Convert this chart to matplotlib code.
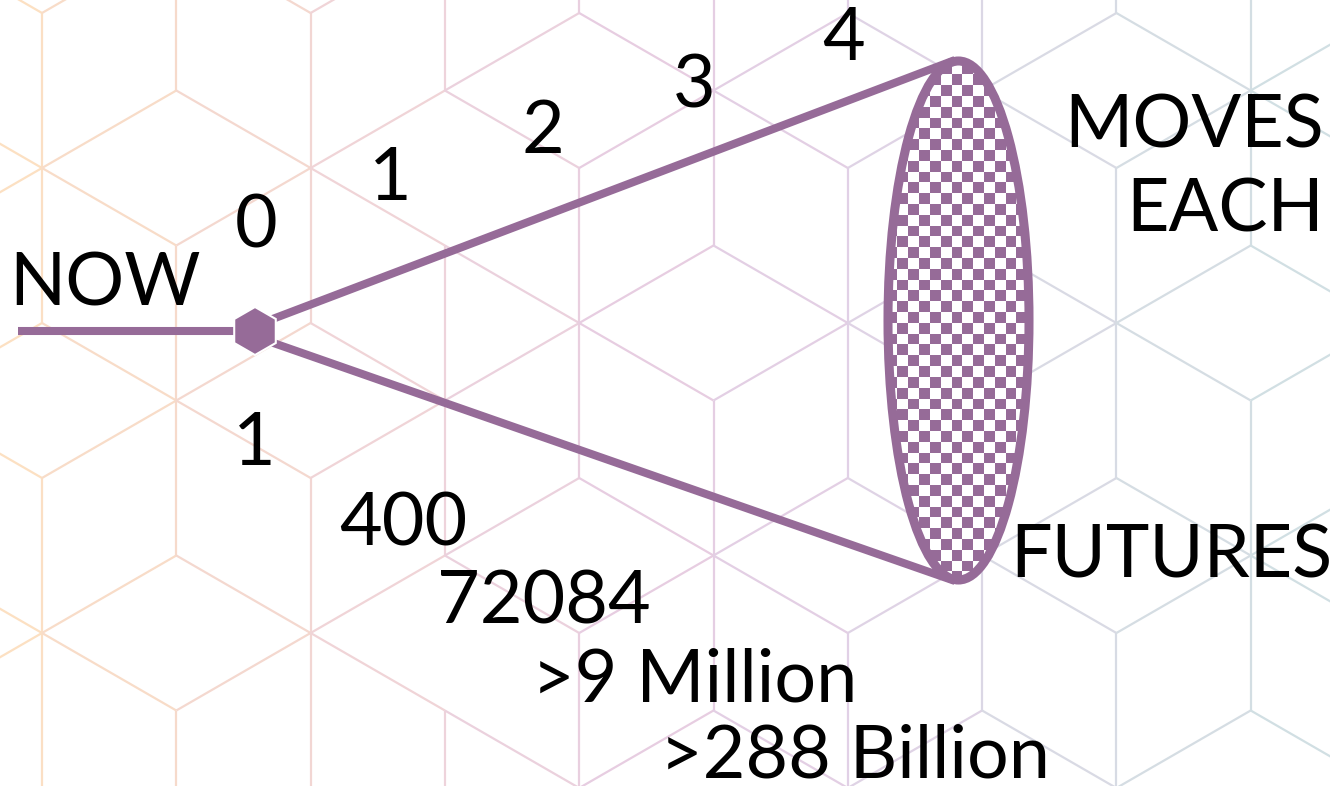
import numpy as np
import matplotlib
matplotlib.use("Agg")
import matplotlib.pyplot as plt
from matplotlib.collections import LineCollection
from matplotlib.colors import LinearSegmentedColormap, ListedColormap
from matplotlib.patches import Ellipse, RegularPolygon

plt.rcParams["font.family"] = ["Lato", "DejaVu Sans"]

# --- labels ---
now_label = "NOW"
step_labels = ["0", "1", "2", "3", "4"]
future_labels = ["1", "400", "72084", ">9 Million", ">288 Billion"]
side_labels = ["MOVES", "EACH", "FUTURES"]

# --- layout (pixels, y grows downwards) ---
W, H = 1330, 786
PURPLE = "#966b98"
step_pos = [(256, 247), (390, 200), (543, 153), (694, 107), (844, 60)]
future_pos = [(254, 465), (403, 545), (544, 623), (695, 702), (855, 778)]
side_pos = [(1324, 147, "right"), (1324, 232, "right"), (1171, 578, "center")]

fig = plt.figure(figsize=(W / 100, H / 100), dpi=100)
ax = fig.add_axes([0, 0, 1, 1])
ax.set_xlim(0, W)
ax.set_ylim(H, 0)
ax.axis("off")

# --- background: isometric cube grid with a colour gradient ---
cell_w, half_h = 134.3, 77.5
gx0, gy0 = 42, 13
grad = LinearSegmentedColormap.from_list("bg", [
    (0.0, "#fce0c2"), (0.18, "#f4d8cf"), (0.35, "#edd2dc"),
    (0.5, "#e6cde2"), (0.65, "#e1d0e6"), (0.78, "#d9dae4"), (1.0, "#d1dfe3")])


def colour_class(k, r):
    return ((3 * k + r) // 2) % 3


segs, cols = [], []
for k in range(-1, 12):
    for r in range(-3, 14):
        if (k + r) % 2:
            continue
        for k2, r2 in [(k, r + 2), (k + 1, r + 1), (k + 1, r - 1)]:
            xa, ya = gx0 + cell_w * k, gy0 + half_h * r
            xb, yb = gx0 + cell_w * k2, gy0 + half_h * r2
            xm = (xa + xb) / 2
            phase = 1 if xm < 450 else 2
            if phase in (colour_class(k, r), colour_class(k2, r2)):
                segs.append([(xa, ya), (xb, yb)])
                cols.append(grad(min(max(xm / W, 0), 1)))
ax.add_collection(LineCollection(segs, colors=cols, linewidths=1.6, zorder=1))

# --- cone ---
lw = 5.8
ax.plot([18, 250], [331, 331], color=PURPLE, lw=lw, solid_capstyle="butt", zorder=2)
ax.plot([262, 955], [323, 60], color=PURPLE, lw=lw, solid_capstyle="butt", zorder=2)
ax.plot([262, 955], [339, 581], color=PURPLE, lw=lw, solid_capstyle="butt", zorder=2)

# checkered ellipse of futures
sq = 10.8
bx0, by0 = 930 - sq * 6, 75 - sq * 3
nx, ny = 17, 51
board = (np.add.outer(np.arange(ny), np.arange(nx)) % 2).astype(float)
im = ax.imshow(board, cmap=ListedColormap(["white", PURPLE]), interpolation="nearest",
               extent=(bx0, bx0 + sq * nx, by0 + sq * ny, by0), aspect="auto", zorder=3)
rim = Ellipse((958.5, 320.5), 141, 519, facecolor="none", edgecolor=PURPLE,
              linewidth=6.5, zorder=4)
ax.add_patch(rim)
im.set_clip_path(rim)

ax.add_patch(RegularPolygon((255, 331), numVertices=6, radius=24, orientation=0,
                            facecolor=PURPLE, edgecolor="white", linewidth=1.5, zorder=5))

ax.set_xlim(0, W)
ax.set_ylim(H, 0)

# --- text ---
fs = 53
kw = dict(fontsize=fs, va="baseline", zorder=6)
ax.text(105, 305, now_label, ha="center", **kw)
for lab, (x, y) in zip(step_labels, step_pos):
    ax.text(x, y, lab, ha="center", **kw)
for lab, (x, y) in zip(future_labels, future_pos):
    ax.text(x, y, lab, ha="center", **kw)
for lab, (x, y, ha) in zip(side_labels, side_pos):
    ax.text(x, y, lab, ha=ha, **kw)

fig.savefig("out.png", dpi=100)
